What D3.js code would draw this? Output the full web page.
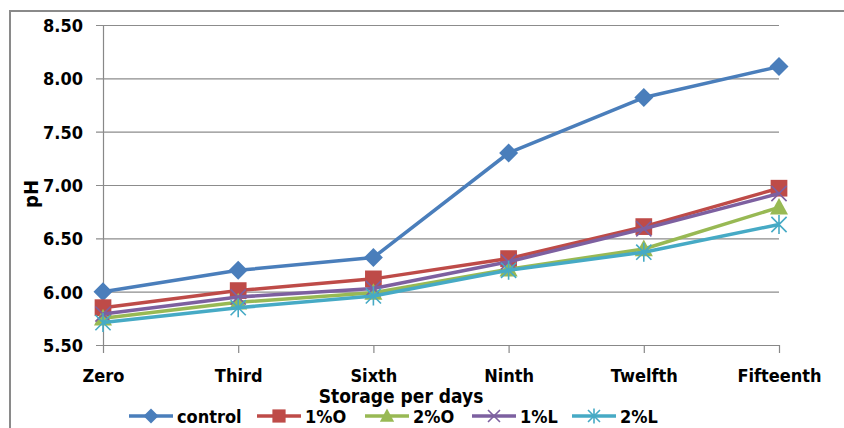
<!DOCTYPE html>
<html>
<head>
<meta charset="utf-8">
<script src="https://cdn.jsdelivr.net/npm/d3@7"></script>
<style>
  html, body { margin: 0; padding: 0; background: #fff; }
  svg { display: block; }
  text { font-family: "DejaVu Sans Condensed", "DejaVu Sans", sans-serif; font-stretch: condensed; font-weight: bold; fill: #000; }
</style>
</head>
<body>
<svg id="chart" width="844" height="428"></svg>
<script>
// Storage days and pH readings for each treatment
const days = ["Zero", "Third", "Sixth", "Ninth", "Twelfth", "Fifteenth"];
const control = [6.00, 6.20, 6.32, 7.30, 7.82, 8.11];
const oil1 = [5.85, 6.01, 6.12, 6.31, 6.61, 6.97];
const oil2 = [5.75, 5.90, 5.99, 6.21, 6.40, 6.79];
const leaf1 = [5.79, 5.95, 6.03, 6.28, 6.59, 6.92];
const leaf2 = [5.71, 5.85, 5.96, 6.20, 6.37, 6.63];
const yTicks = [5.5, 6.0, 6.5, 7.0, 7.5, 8.0, 8.5];

const series = [
  { name: "control", values: control, color: "#4A7EBB", marker: "diamond" },
  { name: "1%O", values: oil1, color: "#BE4B48", marker: "square" },
  { name: "2%O", values: oil2, color: "#98B954", marker: "triangle" },
  { name: "1%L", values: leaf1, color: "#7D60A0", marker: "cross" },
  { name: "2%L", values: leaf2, color: "#46AAC5", marker: "star" }
];

const svg = d3.select("#chart");
const plotLeft = 103, plotRight = 779, plotTop = 25, plotBottom = 345;

// outer chart frame
svg.append("path")
  .attr("d", "M10,428 L10,11 L844,11")
  .attr("fill", "none").attr("stroke", "#8a8a8a").attr("stroke-width", 2);

const x = d3.scalePoint().domain(days).range([plotLeft, plotRight]);
const y = d3.scaleLinear().domain([5.5, 8.5]).range([plotBottom, plotTop]);

// horizontal gridlines with outward tick stubs
const yAxis = d3.axisLeft(y).tickValues(yTicks).tickFormat(d3.format(".2f"))
  .tickSize(-(plotRight - plotLeft)).tickSizeOuter(0);
const gy = svg.append("g").attr("transform", `translate(${plotLeft},0)`).call(yAxis);
gy.select(".domain").attr("stroke", "#888").attr("stroke-width", 1.2);
gy.selectAll(".tick line").attr("stroke", "#8c8c8c").attr("stroke-width", 1.2).attr("x1", -7);
gy.selectAll(".tick text").style("font-size", "18px").attr("x", -20).attr("dy", "0.36em");

const xAxis = d3.axisBottom(x).tickSize(8).tickSizeOuter(0).tickPadding(0);
const gx = svg.append("g").attr("transform", `translate(0,${plotBottom})`).call(xAxis);
gx.select(".domain").attr("stroke", "#888").attr("stroke-width", 1.2);
gx.selectAll(".tick line").attr("stroke", "#888").attr("stroke-width", 1.2);
gx.selectAll(".tick text").style("font-size", "18px").attr("y", 37).attr("dy", 0);

// axis titles
svg.append("text").attr("transform", "translate(38,194) rotate(-90)")
  .attr("text-anchor", "middle").style("font-size", "20px").text("pH");
svg.append("text").attr("x", 401).attr("y", 403)
  .attr("text-anchor", "middle").style("font-size", "19px").text("Storage per days");

function drawMarker(g, type, color, s) {
  const h = s / 2;
  if (type === "diamond") {
    g.append("path").attr("d", `M0,${-h} L${h},0 L0,${h} L${-h},0 Z`).attr("fill", color);
  } else if (type === "square") {
    const q = h * 0.88;
    g.append("rect").attr("x", -q).attr("y", -q).attr("width", 2 * q).attr("height", 2 * q).attr("fill", color);
  } else if (type === "triangle") {
    g.append("path").attr("d", `M0,${-h} L${h * 0.95},${h * 0.75} L${-h * 0.95},${h * 0.75} Z`).attr("fill", color);
  } else if (type === "cross") {
    const q = h * 0.8;
    g.append("path").attr("d", `M${-q},${-q} L${q},${q} M${-q},${q} L${q},${-q}`)
      .attr("stroke", color).attr("stroke-width", 1.6);
  } else if (type === "star") {
    const q = h * 0.8;
    g.append("path").attr("d", `M${-q},${-q} L${q},${q} M${-q},${q} L${q},${-q} M0,${-h} L0,${h}`)
      .attr("stroke", color).attr("stroke-width", 1.6);
  }
}

const line = d3.line().x((d, i) => x(days[i])).y(d => y(d));

series.forEach(s => {
  svg.append("path").datum(s.values).attr("d", line)
    .attr("fill", "none").attr("stroke", s.color).attr("stroke-width", 3.5)
    .attr("stroke-linejoin", "round");
  s.values.forEach((v, i) => {
    const g = svg.append("g").attr("transform", `translate(${x(days[i])},${y(v)})`);
    drawMarker(g, s.marker, s.color, 19);
  });
});

// legend along the bottom edge
const legendX = [129, 257, 365, 472, 572];
series.forEach((s, i) => {
  const g = svg.append("g").attr("transform", `translate(${legendX[i]},416)`);
  g.append("line").attr("x1", 0).attr("x2", 44).attr("y1", 0).attr("y2", 0)
    .attr("stroke", s.color).attr("stroke-width", 3.5);
  const m = g.append("g").attr("transform", "translate(22,0)");
  drawMarker(m, s.marker, s.color, 15);
  g.append("text").attr("x", 48).attr("y", 6.5).style("font-size", "18px").text(s.name);
});
</script>
</body>
</html>
